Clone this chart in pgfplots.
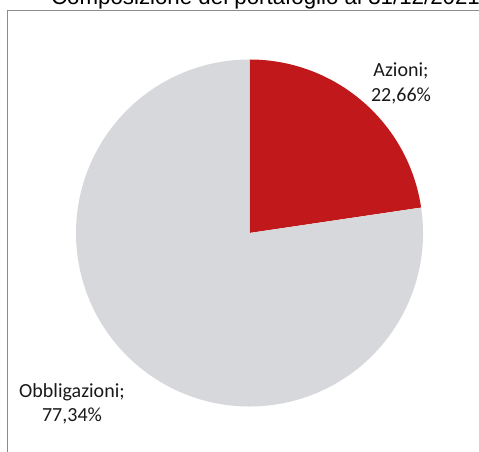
\documentclass[border=0pt]{standalone}
\usepackage{pgfplots}
\pgfplotsset{compat=1.18}
\usepackage{pgfplotstable}
\usepackage{fontspec}
\setmainfont{Liberation Sans}
\newfontfamily\calibri{Carlito}
\definecolor{pieRed}{RGB}{193,25,27}
\definecolor{pieGray}{RGB}{214,216,219}
\definecolor{frameGray}{RGB}{140,140,140}
\begin{document}
\pgfplotstableread{
label value
Azioni 22.66
Obbligazioni 77.34
}\piedata
\begin{tikzpicture}
\useasboundingbox (0pt,0pt) rectangle (479pt,452pt);
\clip (0pt,0pt) rectangle (479pt,452pt);
\pgfplotstablegetelem{0}{value}\of\piedata \let\va=\pgfplotsretval
\pgfplotstablegetelem{1}{value}\of\piedata \let\vb=\pgfplotsretval
\pgfmathsetmacro\aend{90-3.6*\va}
\pgfmathsetmacro\bend{\aend-3.6*\vb}
\draw[frameGray, line width=1.3pt] (7.5pt,-2pt) -- (7.5pt,441.5pt) -- (485pt,441.5pt);
\node[anchor=base, inner sep=0pt, font=\fontsize{22.3}{26}\selectfont] at (265.5pt,447pt) {Composizione del portafoglio al 31/12/2021};
\begin{axis}[at={(249.5pt,219pt)}, anchor=origin, x=173.5pt, y=173.5pt,
  xmin=-1, xmax=1, ymin=-1, ymax=1, hide axis, clip=false]
\fill[pieRed] (axis cs:0,0) -- (axis cs:0,1) arc[start angle=90, end angle=\aend, radius=173.5pt] -- cycle;
\fill[pieGray] (axis cs:0,0) -- (axis cs:{cos(\aend)},{sin(\aend)}) arc[start angle=\aend, end angle=\bend, radius=173.5pt] -- cycle;
\end{axis}
\node[anchor=base, inner sep=0pt, font=\calibri\fontsize{20}{24}\selectfont, text=black!90] at (401pt,375pt) {Azioni;};
\node[anchor=base, inner sep=0pt, font=\calibri\fontsize{20}{24}\selectfont, text=black!90] at (401pt,350pt) {22,66\%};
\node[anchor=base, inner sep=0pt, font=\calibri\fontsize{20}{24}\selectfont, text=black!90] at (72pt,54pt) {Obbligazioni;};
\node[anchor=base, inner sep=0pt, font=\calibri\fontsize{20}{24}\selectfont, text=black!90] at (72pt,30pt) {77,34\%};
\end{tikzpicture}
\end{document}
